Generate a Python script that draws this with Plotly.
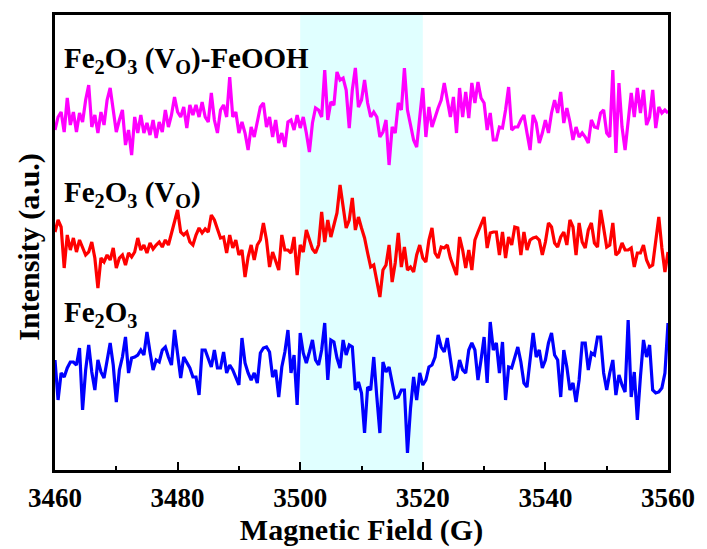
import numpy as np
import plotly.graph_objects as go

# Magnetic field grid (G), 0.5 G steps
field = np.arange(3460, 3560.001, 0.5)

# Intensities (a.u., stacked as in the original figure)
fe2o3_vo_feooh = [
    370, 383, 388, 368, 402, 375, 388, 368, 387, 378, 400, 415, 373, 385, 367, 388, 375, 400, 412, 392,
    368, 380, 390, 355, 370, 345, 383, 367, 385, 367, 377, 365, 380, 362, 378, 368, 390, 373, 385, 403,
    388, 383, 393, 372, 395, 385, 395, 383, 398, 383, 378, 407, 380, 367, 390, 395, 383, 423, 383, 388,
    367, 378, 367, 350, 373, 363, 378,
    393, 397, 373, 383, 363, 380, 357, 367, 353, 378, 380, 370, 385, 372, 383, 367, 348, 377, 392, 390,
    383, 430, 380, 398, 395, 428, 420, 422, 410, 372, 410, 432, 393, 400, 420, 397, 383, 388, 383, 363,
    368, 380, 335, 373, 367, 397, 390, 432, 390, 375, 360, 353, 387, 412, 363, 393, 373, 383, 392, 400,
    417, 400, 383, 403, 367, 412, 383, 408,
    382, 417, 397, 418, 402, 397, 370, 387, 360, 360, 373, 372, 390, 413, 370, 373, 373, 380, 385, 367,
    350, 385, 377, 357, 367, 380, 367, 387, 400, 387, 408, 377, 392, 378, 360, 373, 363, 367, 363, 357,
    380, 373, 372, 387, 390, 367, 363, 430, 347, 417, 373, 350, 377, 407, 383, 412, 387, 410, 375, 383,
    410, 372, 393, 387, 390, 387,
]

fe2o3_vo = [
    268, 280, 273, 232, 265, 250, 262, 248, 260, 252, 245, 248, 258, 242, 212, 242, 238, 245, 240, 252,
    232, 242, 245, 235, 247, 243, 248, 262, 250, 255, 247, 257, 251, 255, 258, 253, 260, 255, 267, 280,
    290, 268, 265, 268, 258, 255, 265, 272, 267, 271, 268, 285, 280, 271, 262, 263, 247, 265, 252, 260,
    245, 250, 223, 243, 255, 240, 255,
    260, 277, 260, 233, 248, 240, 230, 265, 250, 250, 247, 263, 225, 255, 248, 270, 260, 251, 247, 255,
    288, 258, 280, 263, 275, 287, 315, 295, 272, 280, 302, 270, 283, 272, 262, 247, 233, 235, 218, 203,
    230, 235, 255, 218, 237, 267, 233, 253, 230, 233, 228, 245, 255, 242, 238, 260, 272, 247, 242, 253,
    252, 255, 242, 233, 225, 263, 250, 232,
    250, 230, 260, 268, 275, 283, 252, 267, 268, 268, 245, 268, 242, 263, 255, 273, 272, 245, 268, 250,
    260, 262, 263, 260, 245, 258, 277, 273, 257, 253, 263, 268, 255, 280, 273, 245, 277, 258, 252, 270,
    277, 257, 253, 290, 272, 253, 255, 277, 245, 248, 257, 250, 250, 252, 233, 247, 247, 255, 240, 233,
    235, 260, 283, 252, 228, 248,
]

fe2o3 = [
    140, 100, 127, 123, 132, 138, 138, 135, 152, 90, 130, 155, 128, 110, 140, 128, 122, 140, 157, 135,
    98, 130, 143, 163, 127, 142, 143, 145, 150, 145, 168, 148, 130, 140, 138, 150, 153, 143, 135, 170,
    143, 122, 143, 137, 132, 123, 123, 105, 150, 150, 142, 133, 150, 132, 132, 148, 127, 135, 130, 123,
    115, 162, 137, 127, 120, 127, 117,
    147, 152, 153, 148, 123, 130, 103, 133, 148, 170, 127, 145, 95, 167, 147, 137, 148, 160, 140, 135,
    150, 177, 120, 160, 158, 142, 132, 160, 145, 155, 153, 110, 118, 107, 67, 113, 110, 143, 103, 67,
    138, 128, 133, 117, 102, 103, 110, 110, 47, 92, 123, 100, 127, 115, 120, 133, 135, 143, 165, 153,
    148, 162, 143, 120, 123, 140, 130, 127,
    150, 157, 150, 120, 140, 163, 117, 178, 150, 157, 127, 158, 100, 133, 132, 143, 153, 138, 117, 113,
    143, 167, 143, 150, 132, 140, 157, 167, 145, 140, 103, 150, 133, 110, 117, 98, 120, 157, 157, 130,
    147, 145, 163, 163, 127, 110, 127, 140, 105, 125, 115, 108, 180, 103, 128, 80, 123, 160, 143, 155,
    110, 107, 108, 112, 127, 177,
]

series = [
    ("Fe<sub>2</sub>O<sub>3</sub> (V<sub>O</sub>)-FeOOH", fe2o3_vo_feooh, "#FF00FF"),
    ("Fe<sub>2</sub>O<sub>3</sub> (V<sub>O</sub>)", fe2o3_vo, "#FF0000"),
    ("Fe<sub>2</sub>O<sub>3</sub>", fe2o3, "#0000FF"),
]

highlight_range = [3500, 3520]
x_range = [3460, 3560]
y_range = [30, 485]

FONT = "Liberation Serif, Times New Roman, serif"

fig = go.Figure()
for name, vals, color in series:
    fig.add_trace(go.Scatter(
        x=field, y=vals, mode="lines", name=name,
        line=dict(color=color, width=3.2), showlegend=False,
    ))

fig.add_shape(type="rect", xref="x", yref="paper",
              x0=highlight_range[0], x1=highlight_range[1], y0=0, y1=1,
              fillcolor="#E0FFFF", line=dict(width=0), layer="below")

label_pos = [440, 306, 186]
for (name, vals, color), ypos in zip(series, label_pos):
    fig.add_annotation(x=0.012, xref="paper", y=ypos, yref="y",
                       text="<b>" + name + "</b>", showarrow=False,
                       xanchor="left", yanchor="middle",
                       font=dict(family=FONT, size=29, color="black"))

fig.add_annotation(x=-0.043, xref="paper", y=0.49, yref="paper",
                   text="<b>Intensity (a.u.)</b>", showarrow=False, textangle=-90,
                   xanchor="center", yanchor="middle",
                   font=dict(family=FONT, size=30, color="black"))

fig.update_layout(
    width=707, height=549,
    margin=dict(l=55, r=32, t=15, b=79),
    paper_bgcolor="white", plot_bgcolor="white",
    xaxis=dict(
        range=x_range, dtick=20, tick0=3460,
        ticks="inside", ticklen=8, tickwidth=2, tickcolor="black",
        minor=dict(dtick=10, ticks="inside", ticklen=4, tickwidth=2, tickcolor="black"),
        showline=True, linecolor="black", linewidth=2.5, mirror=True,
        showgrid=False, zeroline=False,
        tickfont=dict(family=FONT, size=27, color="black"),
        ticklabelstandoff=2,
        title=dict(text="<b>Magnetic Field (G)</b>", standoff=2,
                   font=dict(family=FONT, size=30, color="black")),
        tickformat="d",
    ),
    yaxis=dict(
        range=y_range, showticklabels=False, ticks="",
        showline=True, linecolor="black", linewidth=2.5, mirror=True,
        showgrid=False, zeroline=False,
    ),
)
fig.update_xaxes(tickprefix="<b>", ticksuffix="</b>")

fig.write_html("out.html")
